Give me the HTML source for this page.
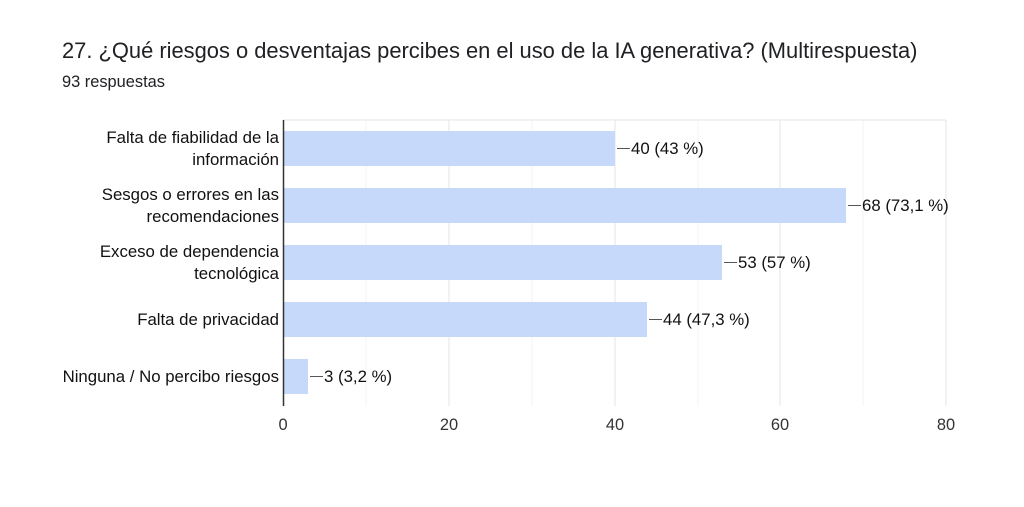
<!DOCTYPE html>
<html><head><meta charset="utf-8"><style>
html,body{margin:0;padding:0;background:#fff;width:1024px;height:507px;overflow:hidden}
svg{display:block;font-family:"Liberation Sans",Arial,sans-serif}
</style></head><body>
<svg width="1024" height="507" viewBox="0 0 1024 507">
<text x="62" y="58" font-size="21.9" fill="#202124">27. ¿Qué riesgos o desventajas percibes en el uso de la IA generativa? (Multirespuesta)</text>
<text x="62" y="87" font-size="16.4" fill="#202124">93 respuestas</text>
<g stroke="#f3f3f3" stroke-width="1">
<line x1="366" y1="120" x2="366" y2="406"/><line x1="532" y1="120" x2="532" y2="406"/><line x1="698" y1="120" x2="698" y2="406"/><line x1="863" y1="120" x2="863" y2="406"/>
</g>
<g stroke="#e6e6e6" stroke-width="1">
<line x1="449" y1="120" x2="449" y2="406"/><line x1="615" y1="120" x2="615" y2="406"/><line x1="780" y1="120" x2="780" y2="406"/><line x1="946" y1="120" x2="946" y2="406"/>
<line x1="283" y1="120" x2="946" y2="120"/>
</g>
<g fill="#c6d9fb">
<rect x="284" y="131" width="331" height="35"/>
<rect x="284" y="188" width="562" height="35"/>
<rect x="284" y="245" width="438" height="35"/>
<rect x="284" y="302" width="363" height="35"/>
<rect x="284" y="359" width="24" height="35"/>
</g>
<line x1="283.5" y1="120" x2="283.5" y2="406" stroke="#333" stroke-width="1.5"/>
<g stroke="#555" stroke-width="1">
<line x1="617" y1="148.5" x2="630" y2="148.5"/>
<line x1="848" y1="205.5" x2="861" y2="205.5"/>
<line x1="724" y1="262.5" x2="737" y2="262.5"/>
<line x1="649" y1="319.5" x2="662" y2="319.5"/>
<line x1="310" y1="376.5" x2="323" y2="376.5"/>
</g>
<g font-size="16.8" fill="#111">
<text x="631" y="154">40 (43 %)</text>
<text x="862" y="211">68 (73,1 %)</text>
<text x="738" y="268">53 (57 %)</text>
<text x="663" y="325">44 (47,3 %)</text>
<text x="324" y="382">3 (3,2 %)</text>
</g>
<g font-size="16.8" fill="#111" text-anchor="end">
<text x="279" y="143">Falta de fiabilidad de la</text>
<text x="279" y="165">información</text>
<text x="279" y="200">Sesgos o errores en las</text>
<text x="279" y="222">recomendaciones</text>
<text x="279" y="257">Exceso de dependencia</text>
<text x="279" y="279">tecnológica</text>
<text x="279" y="325">Falta de privacidad</text>
<text x="279" y="382">Ninguna / No percibo riesgos</text>
</g>
<g font-size="16.4" fill="#333" text-anchor="middle">
<text x="283" y="430">0</text><text x="449" y="430">20</text><text x="615" y="430">40</text><text x="780" y="430">60</text><text x="946" y="430">80</text>
</g>
</svg>
</body></html>
